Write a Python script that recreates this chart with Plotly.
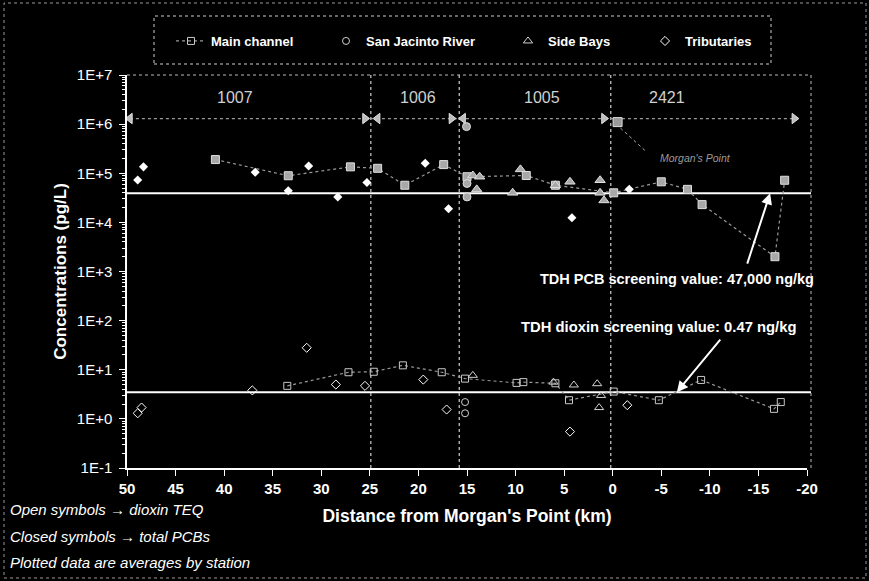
import math
import plotly.graph_objects as go

# ---------------- data ----------------
# Main channel
mc_pcb_km = [40.9, 33.4, 27.0, 24.2, 21.4, 17.4, 15.0, 8.9, 5.9, -0.1, -5.0, -7.7, -9.2, -16.7, -17.7]
mc_pcb_val = [1.9e5, 8.9e4, 1.35e5, 1.26e5, 5.7e4, 1.5e5, 8.5e4, 9.0e4, 5.7e4, 4.0e4, 6.7e4, 4.7e4, 2.3e4, 2.0e3, 7.2e4]
mc_diox_km = [33.5, 27.2, 24.6, 21.6, 17.6, 15.2, 9.9, 9.2, 5.9, 4.5, -0.1, -4.75, -9.1, -16.6, -17.3]
mc_diox_val = [4.7, 8.9, 9.1, 12.3, 8.9, 6.6, 5.4, 5.6, 5.3, 2.4, 3.6, 2.4, 6.2, 1.6, 2.2]

# San Jacinto River
sj_pcb_km = [15.05, 15.0, 15.0]
sj_pcb_val = [8.9e5, 6.2e4, 3.3e4]
sj_diox_km = [15.2, 15.2]
sj_diox_val = [2.2, 1.3]

# Side Bays
sb_pcb_km = [14.4, 13.7, 14.0, 10.3, 9.5, 5.9, 4.4, 1.3, 1.3, 0.9]
sb_pcb_val = [9.0e4, 8.5e4, 4.7e4, 4.0e4, 1.2e5, 5.7e4, 6.7e4, 7.2e4, 4.0e4, 2.8e4]
sb_diox_km = [14.4, 6.1, 4.0, 1.6, 1.2, 1.4]
sb_diox_val = [7.7, 5.6, 4.9, 5.2, 3.0, 1.7]

# Tributaries
tr_pcb_km = [48.3, 48.9, 36.8, 33.4, 31.3, 28.3, 25.3, 19.3, 16.9, 4.2, -1.7]
tr_pcb_val = [1.35e5, 7.3e4, 1.05e5, 4.4e4, 1.4e5, 3.3e4, 6.5e4, 1.6e5, 1.9e4, 1.24e4, 4.7e4]
tr_diox_km = [48.9, 48.5, 37.1, 31.5, 28.5, 25.5, 19.5, 17.1, 4.4, -1.5]
tr_diox_val = [1.3, 1.7, 3.8, 28, 5.0, 4.7, 6.3, 1.55, 0.55, 1.9]

# Segments
segment_names = ["1007", "1006", "1005", "2421"]
segment_label_km = [38.9, 20.0, 7.3, -5.6]
segment_label_level = 3.5e6
segment_bounds_km = [24.9, 15.8, 0.2]
segment_arrow_km = [49.7, 25.5, 24.2, 16.6, 15.4, 0.9, -18.7]
segment_arrow_sym = ["triangle-left", "triangle-right", "triangle-left", "triangle-right",
                     "triangle-left", "triangle-right", "triangle-right"]
segment_level = 1.3e6
morgans_point_km = -0.5
morgans_point_level = 1.1e6

# Screening values
pcb_screen = 3.9e4
diox_screen = 3.5
pcb_label = "TDH PCB screening value: 47,000 ng/kg"
diox_label = "TDH dioxin screening value: 0.47 ng/kg"

x_ticks = [50, 45, 40, 35, 30, 25, 20, 15, 10, 5, 0, -5, -10, -15, -20]
y_tickvals = [1e-1, 1e0, 1e1, 1e2, 1e3, 1e4, 1e5, 1e6, 1e7]
y_ticktext = ["1E-1", "1E+0", "1E+1", "1E+2", "1E+3", "1E+4", "1E+5", "1E+6", "1E+7"]

legend_names = ["Main channel", "San Jacinto River", "Side Bays", "Tributaries"]

# ---------------- figure ----------------
FONT = "Liberation Sans, Arial, sans-serif"
W, H = 869, 581
L, R, T, B = 127, 62, 75, 113
pw = W - L - R
ph = H - T - B


def px_x(p):
    return (p - L) / pw


def px_y(p):
    return (H - B - p) / ph


lg = math.log10
fig = go.Figure()

# segment arrow line
fig.add_trace(go.Scatter(x=[segment_arrow_km[0], segment_arrow_km[-1]], y=[segment_level, segment_level],
                         mode="lines", line=dict(color="#9a9a9a", width=1.2, dash="dot"),
                         showlegend=False, hoverinfo="skip"))
fig.add_trace(go.Scatter(x=segment_arrow_km, y=[segment_level] * len(segment_arrow_km),
                         mode="markers", marker=dict(symbol=segment_arrow_sym, size=9, color="#bdbdbd",
                                                     line=dict(color="#e0e0e0", width=1)),
                         showlegend=False, hoverinfo="skip"))
fig.add_trace(go.Scatter(x=[morgans_point_km], y=[morgans_point_level], mode="markers",
                         marker=dict(symbol="square", size=9, color="#9a9a9a",
                                     line=dict(color="#dddddd", width=1)),
                         showlegend=False, hoverinfo="skip"))

legend_text_px = [212, 367, 549, 686]
# Main channel
fig.add_trace(go.Scatter(x=mc_pcb_km, y=mc_pcb_val, mode="lines+markers",
                         line=dict(color="#9a9a9a", width=1.2, dash="dot"),
                         marker=dict(symbol="square", size=8, color="#a8a8a8", line=dict(color="#e0e0e0", width=1)),
                         showlegend=False))
fig.add_trace(go.Scatter(x=mc_diox_km, y=mc_diox_val, mode="lines+markers", name="<b>" + legend_names[0] + "</b>",
                         line=dict(color="#9a9a9a", width=1.2, dash="dot"),
                         marker=dict(symbol="square-open", size=7, color="#c8c8c8", line=dict(width=1)),
                         legend="legend"))
# San Jacinto River
fig.add_trace(go.Scatter(x=sj_pcb_km, y=sj_pcb_val, mode="markers",
                         marker=dict(symbol="circle", size=8, color="#a8a8a8", line=dict(color="#e0e0e0", width=1)),
                         showlegend=False))
fig.add_trace(go.Scatter(x=sj_diox_km, y=sj_diox_val, mode="markers", name="<b>" + legend_names[1] + "</b>",
                         marker=dict(symbol="circle-open", size=7, color="#d0d0d0", line=dict(width=1)),
                         legend="legend2"))
# Side Bays
fig.add_trace(go.Scatter(x=sb_pcb_km, y=sb_pcb_val, mode="markers",
                         marker=dict(symbol="triangle-up", size=9, color="#a8a8a8", line=dict(color="#e0e0e0", width=1)),
                         showlegend=False))
fig.add_trace(go.Scatter(x=sb_diox_km, y=sb_diox_val, mode="markers", name="<b>" + legend_names[2] + "</b>",
                         marker=dict(symbol="triangle-up-open", size=8, color="#d0d0d0", line=dict(width=1)),
                         legend="legend3"))
# Tributaries
fig.add_trace(go.Scatter(x=tr_pcb_km, y=tr_pcb_val, mode="markers",
                         marker=dict(symbol="diamond", size=7, color="#ffffff"),
                         showlegend=False))
fig.add_trace(go.Scatter(x=tr_diox_km, y=tr_diox_val, mode="markers", name="<b>" + legend_names[3] + "</b>",
                         marker=dict(symbol="diamond-open", size=7, color="#ffffff", line=dict(width=1)),
                         legend="legend4"))

shapes = []
for v in (pcb_screen, diox_screen):
    shapes.append(dict(type="line", xref="paper", yref="y", x0=0, x1=px_x(811), y0=v, y1=v,
                       line=dict(color="#ffffff", width=2), layer="below"))
for b in segment_bounds_km:
    shapes.append(dict(type="line", xref="x", yref="paper", x0=b, x1=b, y0=0, y1=1,
                       line=dict(color="#cfcfcf", width=1.2, dash="dot"), layer="below"))
shapes.append(dict(type="line", xref="paper", yref="paper", x0=0, x1=px_x(811), y0=1, y1=1,
                   line=dict(color="#bbbbbb", width=1, dash="dot")))
shapes.append(dict(type="line", xref="paper", yref="paper", x0=px_x(811), x1=px_x(811), y0=0, y1=1,
                   line=dict(color="#bbbbbb", width=1, dash="dot")))
# Morgan's Point leader
shapes.append(dict(type="line", xref="x", yref="y", x0=-0.8, x1=-3.5, y0=8.3e5, y1=2.7e5,
                   line=dict(color="#aaaaaa", width=1, dash="dot")))
# legend box
shapes.append(dict(type="rect", xref="paper", yref="paper", x0=px_x(154), x1=px_x(771),
                   y0=px_y(64), y1=px_y(16), line=dict(color="#cccccc", width=1, dash="dot")))
# outer border
shapes.append(dict(type="rect", xref="paper", yref="paper", x0=px_x(4), x1=px_x(866),
                   y0=px_y(578), y1=px_y(3), line=dict(color="#999999", width=1, dash="dot")))

annotations = []
for name, km in zip(segment_names, segment_label_km):
    annotations.append(dict(x=km, y=lg(segment_label_level), xref="x", yref="y", text=name, showarrow=False,
                            font=dict(family=FONT, size=16, color="#d0d0d0")))
annotations.append(dict(x=-8.5, y=lg(2.0e5), xref="x", yref="y", text="<i>Morgan's Point</i>", showarrow=False,
                        font=dict(family=FONT, size=10.5, color="#9a9a9a")))
annotations.append(dict(x=-16.2, y=lg(pcb_screen), ax=-13.8, ay=lg(1.35e3), xref="x", yref="y", axref="x", ayref="y",
                        text="", showarrow=True, arrowhead=2, arrowsize=1.1, arrowwidth=2, arrowcolor="#ffffff"))
annotations.append(dict(x=-6.6, y=lg(diox_screen), ax=-11.2, ay=lg(44), xref="x", yref="y", axref="x", ayref="y",
                        text="", showarrow=True, arrowhead=2, arrowsize=1.1, arrowwidth=2, arrowcolor="#ffffff"))
annotations.append(dict(x=-6.6, y=lg(700), xref="x", yref="y", text="<b>" + pcb_label + "</b>",
                        showarrow=False, font=dict(family=FONT, size=14.5, color="#ffffff")))
annotations.append(dict(x=-4.7, y=lg(74), xref="x", yref="y", text="<b>" + diox_label + "</b>",
                        showarrow=False, font=dict(family=FONT, size=14.8, color="#ffffff")))
for txt, py in (("Open symbols \u2192 dioxin TEQ", 509), ("Closed symbols \u2192 total PCBs", 536),
                ("Plotted data are averages by station", 562)):
    annotations.append(dict(x=px_x(8), y=px_y(py), xref="paper", yref="paper", xanchor="left", yanchor="middle",
                            text="<i>" + txt + "</i>", showarrow=False,
                            font=dict(family=FONT, size=15, color="#ffffff")))

leg_common = dict(orientation="h", yanchor="middle", bgcolor="rgba(0,0,0,0)",
                  font=dict(family=FONT, size=13, color="#ffffff"), itemwidth=30)
leg_y = px_y(41)
fig.update_layout(
    width=W, height=H,
    margin=dict(l=L, r=R, t=T, b=B, autoexpand=False),
    paper_bgcolor="#000000", plot_bgcolor="#000000",
    font=dict(family=FONT, color="#ffffff", size=14),
    showlegend=True,
    legend=dict(x=px_x(legend_text_px[0] - 41), y=leg_y, **leg_common),
    legend2=dict(x=px_x(legend_text_px[1] - 41), y=leg_y, **leg_common),
    legend3=dict(x=px_x(legend_text_px[2] - 41), y=leg_y, **leg_common),
    legend4=dict(x=px_x(legend_text_px[3] - 41), y=leg_y, **leg_common),
    shapes=shapes, annotations=annotations,
    xaxis=dict(range=[50, -20], tickvals=x_ticks, ticktext=[f"<b>{t}</b>" for t in x_ticks],
               showgrid=False, zeroline=False, showline=True, linecolor="#ffffff", linewidth=1.5,
               ticks="outside", ticklen=6, tickcolor="#ffffff",
               tickfont=dict(family=FONT, size=15, color="#ffffff"),
               title=dict(text="<b>Distance from Morgan's Point (km)</b>", standoff=14,
                          font=dict(family=FONT, size=17.5, color="#ffffff"))),
    yaxis=dict(type="log", range=[-1, 7], tickvals=y_tickvals, ticktext=y_ticktext,
               showgrid=False, zeroline=False, showline=True, linecolor="#ffffff", linewidth=1.5,
               ticks="outside", ticklen=6, tickcolor="#ffffff", ticklabelstandoff=4,
               minor=dict(ticks="outside", ticklen=3, tickcolor="#ffffff", dtick="D1", showgrid=False),
               tickfont=dict(family=FONT, size=15, color="#ffffff"),
               title=dict(text="<b>Concentrations (pg/L)</b>", standoff=6,
                          font=dict(family=FONT, size=17, color="#ffffff"))),
)

fig.write_html("out.html", config={"displayModeBar": False},
               post_script="document.body.style.margin='0';document.body.style.background='#000';")
